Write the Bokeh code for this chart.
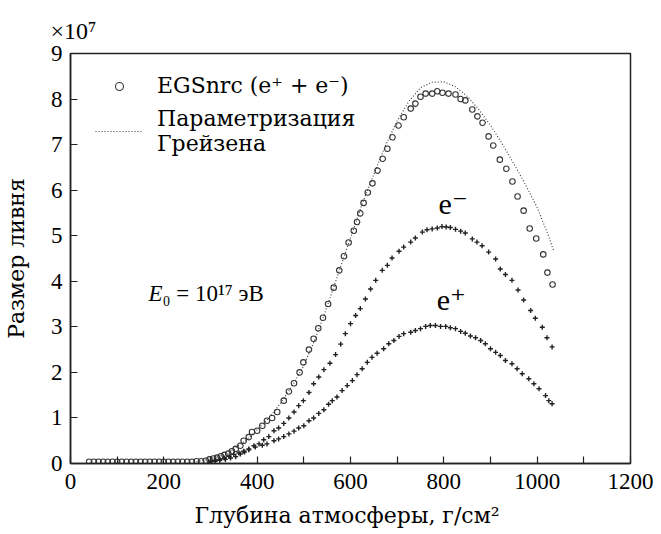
from bokeh.plotting import figure
from bokeh.models import (Range1d, FixedTicker, Legend, LegendItem, Label, Title)
from bokeh.embed import file_html
from bokeh.resources import INLINE

# ---------------- data (values in units of 1e7) ----------------
total_x = [40, 50, 60, 70, 80, 90, 100, 110, 120, 130, 140, 150, 160, 170, 180,
           190, 200, 210, 220, 230, 240, 250, 260, 270, 280,
           290, 298, 306, 314, 322, 330, 338, 346, 354, 364, 371, 382, 389, 400,
           411, 421, 432, 443, 457, 468, 479, 491, 499, 511, 521, 531, 541, 552,
           564, 576, 586, 596, 607, 614, 621, 628, 637, 647, 658, 669, 679, 690,
           703, 714, 729, 739, 750, 761, 775, 786, 797, 810, 825, 836, 846, 861,
           872, 883, 896, 906, 920, 934, 947, 958, 971, 984, 998, 1013, 1022, 1033]
total_y = [0.04, 0.04, 0.04, 0.04, 0.04, 0.04, 0.04, 0.04, 0.04, 0.04, 0.04, 0.04,
           0.04, 0.04, 0.04, 0.04, 0.04, 0.04, 0.04, 0.04, 0.04, 0.04, 0.04, 0.05, 0.05,
           0.06, 0.09, 0.11, 0.13, 0.16, 0.19, 0.22, 0.27, 0.32, 0.39, 0.50, 0.58, 0.69, 0.72,
           0.83, 0.94, 1.00, 1.13, 1.38, 1.58, 1.76, 2.00, 2.22, 2.50, 2.74, 2.97, 3.20, 3.50,
           3.86, 4.24, 4.55, 4.85, 5.11, 5.30, 5.49, 5.72, 5.95, 6.15, 6.43, 6.69, 6.91, 7.16,
           7.42, 7.60, 7.79, 7.90, 8.05, 8.12, 8.12, 8.17, 8.14, 8.12, 8.10, 8.00, 7.97, 7.77,
           7.62, 7.48, 7.18, 6.98, 6.67, 6.47, 6.19, 5.86, 5.55, 5.16, 4.94, 4.59, 4.19, 3.93]

em_x = [300, 310, 320, 330, 340, 350, 361, 371, 382, 393, 404, 414, 425, 436, 446,
        457, 468, 479, 489, 499, 511, 521, 532, 543, 556, 568, 579, 589, 600, 611,
        621, 632, 643, 654, 668, 679, 689, 704, 714, 729, 739, 754, 764, 775, 786,
        796, 805, 814, 825, 836, 846, 861, 871, 882, 896, 911, 921, 932, 946, 959,
        971, 986, 996, 1011, 1021, 1032]
em_y = [0.05, 0.07, 0.09, 0.12, 0.16, 0.20, 0.23, 0.27, 0.32, 0.39, 0.43, 0.52, 0.59,
        0.72, 0.78, 0.88, 1.00, 1.13, 1.27, 1.38, 1.56, 1.75, 1.90, 2.06, 2.20, 2.39,
        2.62, 2.85, 3.07, 3.25, 3.40, 3.61, 3.83, 4.02, 4.24, 4.35, 4.51, 4.66, 4.75,
        4.86, 4.95, 5.08, 5.13, 5.15, 5.17, 5.20, 5.19, 5.18, 5.14, 5.10, 5.06, 4.93,
        4.86, 4.78, 4.64, 4.49, 4.27, 4.15, 4.02, 3.81, 3.59, 3.36, 3.19, 2.99, 2.76, 2.56]

ep_x = [300, 310, 320, 332, 343, 354, 364, 373, 382, 396, 411, 421, 436, 446, 457,
        468, 479, 489, 500, 511, 521, 532, 543, 553, 561, 571, 582, 593, 604, 614,
        625, 636, 646, 657, 671, 682, 693, 704, 714, 729, 739, 750, 761, 771, 782,
        793, 804, 814, 825, 836, 846, 857, 868, 879, 889, 900, 911, 921, 932, 946,
        957, 968, 982, 993, 1004, 1018, 1025, 1032]
ep_y = [0.03, 0.05, 0.07, 0.09, 0.12, 0.15, 0.21, 0.25, 0.30, 0.36, 0.40, 0.43, 0.50,
        0.54, 0.59, 0.65, 0.71, 0.78, 0.83, 0.94, 1.00, 1.10, 1.18, 1.30, 1.38, 1.46,
        1.60, 1.71, 1.82, 1.95, 2.08, 2.22, 2.33, 2.42, 2.52, 2.63, 2.70, 2.79, 2.85,
        2.88, 2.92, 2.96, 3.01, 3.03, 3.03, 3.01, 3.01, 2.98, 2.96, 2.90, 2.86, 2.80,
        2.76, 2.70, 2.63, 2.52, 2.44, 2.37, 2.26, 2.19, 2.08, 1.97, 1.86, 1.75, 1.64,
        1.49, 1.38, 1.31]

greisen_x = [270, 300, 325, 350, 375, 400, 425, 450, 475, 500, 525, 550, 575, 600,
             625, 650, 675, 700, 725, 750, 775, 800, 825, 850, 875, 900, 925, 950,
             975, 1000, 1025, 1035]
greisen_y = [0.04, 0.10, 0.20, 0.32, 0.50, 0.74, 1.00, 1.32, 1.70, 2.15, 2.75, 3.45,
             4.20, 4.95, 5.70, 6.35, 6.98, 7.52, 7.95, 8.25, 8.37, 8.38, 8.27, 8.06,
             7.77, 7.42, 7.02, 6.58, 6.12, 5.62, 4.98, 4.68]

x_ticks = [0, 200, 400, 600, 800, 1000, 1200]
x_minor = [100, 300, 500, 700, 900, 1100]
y_ticks = [0, 1, 2, 3, 4, 5, 6, 7, 8, 9]

FONT = "'Liberation Serif', 'DejaVu Serif', serif"
WIDE = "'DejaVu Serif', serif"
INK = "#222222"

p = figure(width=655, height=534, output_backend="svg", toolbar_location=None,
           x_range=Range1d(0, 1200), y_range=Range1d(0, 9),
           min_border_left=70, min_border_right=25, min_border_top=53,
           min_border_bottom=71)
p.grid.visible = False
p.background_fill_color = "white"
p.border_fill_color = "white"
p.outline_line_color = INK
p.outline_line_width = 1.5

p.title = Title(text="×10⁷", align="left", offset=-20, standoff=20,
                text_font=FONT, text_font_size="24px", text_font_style="normal",
                text_color="black")

for ax in (p.xaxis[0], p.yaxis[0]):
    ax.axis_line_color = INK
    ax.axis_line_width = 1.5
    ax.major_tick_in = 7
    ax.major_tick_out = 0
    ax.minor_tick_in = 7
    ax.minor_tick_out = 0
    ax.major_tick_line_color = INK
    ax.minor_tick_line_color = INK
    ax.major_tick_line_width = 1.2
    ax.minor_tick_line_width = 1.2
    ax.major_label_text_font = FONT
    ax.major_label_text_font_size = "23px"
    ax.major_label_text_color = "black"
    ax.axis_label_text_font = WIDE
    ax.axis_label_text_font_size = "22px"
    ax.axis_label_text_font_style = "normal"
    ax.axis_label_text_color = "black"

p.xaxis[0].ticker = FixedTicker(ticks=x_ticks, minor_ticks=x_minor)
p.yaxis[0].ticker = FixedTicker(ticks=y_ticks)
p.xaxis[0].major_label_standoff = 10
p.yaxis[0].major_label_standoff = 8
p.xaxis[0].axis_label = "Глубина атмосферы,  г/см²"
p.yaxis[0].axis_label = "Размер ливня"
p.xaxis[0].axis_label_standoff = 11
p.yaxis[0].axis_label_standoff = 19

line_r = p.line(greisen_x, greisen_y, line_color="#333333", line_width=1.1,
                line_dash="1 2")
circ_r = p.scatter(total_x, total_y, marker="circle", size=5.5, fill_alpha=0,
                   line_color="#333333", line_width=1.1)
p.scatter(em_x, em_y, marker="cross", size=5, line_color="#222222", line_width=1.4)
p.scatter(ep_x, ep_y, marker="cross", size=5, line_color="#222222", line_width=1.4)

legend = Legend(items=[
    LegendItem(label="EGSnrc (e⁺ + e⁻)", renderers=[circ_r]),
    LegendItem(label="Параметризация\nГрейзена", renderers=[line_r]),
], location=(15, 297))
legend.border_line_alpha = 0
legend.background_fill_alpha = 0
legend.label_text_font = WIDE
legend.label_text_font_size = "22px"
legend.label_text_color = "black"
legend.glyph_width = 48
legend.glyph_height = 20
legend.label_standoff = 14
legend.spacing = 8
legend.margin = 0
legend.padding = 10
legend.label_text_line_height = 1.0
p.add_layout(legend)

labels = [
    Label(x=167, y=3.73, text="E", text_font=FONT, text_font_size="23px",
          text_font_style="italic", text_color="black", text_baseline="alphabetic"),
    Label(x=167, y=3.73, x_offset=14, text="₀ = 10¹⁷ эВ", text_font=FONT,
          text_font_size="23px", text_color="black", text_baseline="alphabetic"),
    Label(x=820, y=5.7, text="e⁻", text_font=FONT, text_font_size="30px",
          text_color="black", text_align="center", text_baseline="middle"),
    Label(x=816, y=3.6, text="e⁺", text_font=FONT, text_font_size="30px",
          text_color="black", text_align="center", text_baseline="middle"),
]
for lb in labels:
    p.add_layout(lb)

open("out.html", "w").write(file_html(p, INLINE))
